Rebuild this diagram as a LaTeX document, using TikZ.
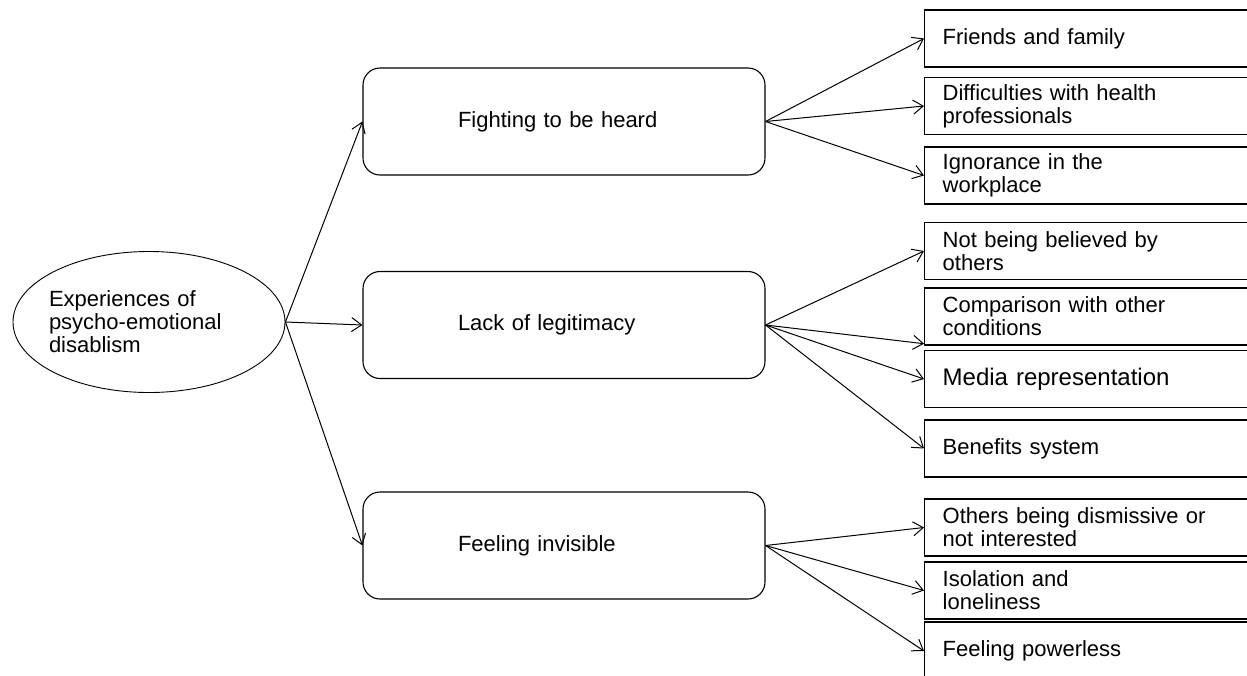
\documentclass[tikz,border=0pt]{standalone}
\usepackage{fontspec}
\setmainfont{Liberation Sans}
\usetikzlibrary{arrows.meta,shapes.geometric}

\begin{document}
\begin{tikzpicture}[x=1pt, y=-1pt,
    root style/.style={draw, ellipse, line width=0.9pt, minimum width=272pt,
        minimum height=141pt, inner xsep=-12pt, inner ysep=0pt, text width=200pt, align=left},
    theme style/.style={draw, rounded corners=17pt, line width=1.1pt,
        minimum width=402pt, minimum height=107pt, text width=212pt, align=left},
    sub style/.style={draw, line width=1.4pt, anchor=west, minimum width=340pt,
        minimum height=57pt, inner xsep=18pt, inner ysep=0pt, text width=304pt, align=left},
    link/.style={line width=1pt, ->},
    >={Straight Barb[length=10pt, width=14pt]},
    font=\fontsize{22}{23}\selectfont]
    \useasboundingbox (0,0) rectangle (1247,675);
    \clip (0,0) rectangle (1247,675);

    % centre and themes
    \node[root style] (root) at (149,322) {Experiences of\\psycho-emotional\\disablism};
    \node[theme style] (heard) at (564,121.5) {Fighting to be heard};
    \node[theme style] (legit) at (564,325) {Lack of legitimacy};
    \node[theme style] (invis) at (564,545.5) {Feeling invisible};

    % sub-themes
    \node[sub style] (friends) at (924,38.5) {Friends and family};
    \node[sub style] (health) at (924,106) {Difficulties with health\\professionals};
    \node[sub style] (work) at (924,175.5) {Ignorance in the\\workplace};
    \node[sub style] (believed) at (924,251) {Not being believed by\\others};
    \node[sub style] (compare) at (924,316.5) {Comparison with other\\conditions};
    \node[sub style, font=\fontsize{24}{26}\selectfont] (media) at (924,379) {Media representation};
    \node[sub style] (benefits) at (924,448.5) {Benefits system};
    \node[sub style] (dismiss) at (924,527.5) {Others being dismissive or\\not interested};
    \node[sub style] (isolate) at (924,590.5) {Isolation and\\loneliness};
    \node[sub style, minimum height=58pt] (power) at (924,651) {Feeling powerless};

    \foreach \t in {heard,legit,invis} \draw[link] (root.east) -- (\t.west);

    \foreach \t in {friends,health,work} \draw[link] (heard.east) -- (\t.west);
    \foreach \t in {believed,media,benefits} \draw[link] (legit.east) -- (\t.west);
    \draw[link] (legit.east) -- ([yshift=2pt]compare.south west);
    \foreach \t in {dismiss,isolate,power} \draw[link] (invis.east) -- (\t.west);

\end{tikzpicture}
\end{document}
